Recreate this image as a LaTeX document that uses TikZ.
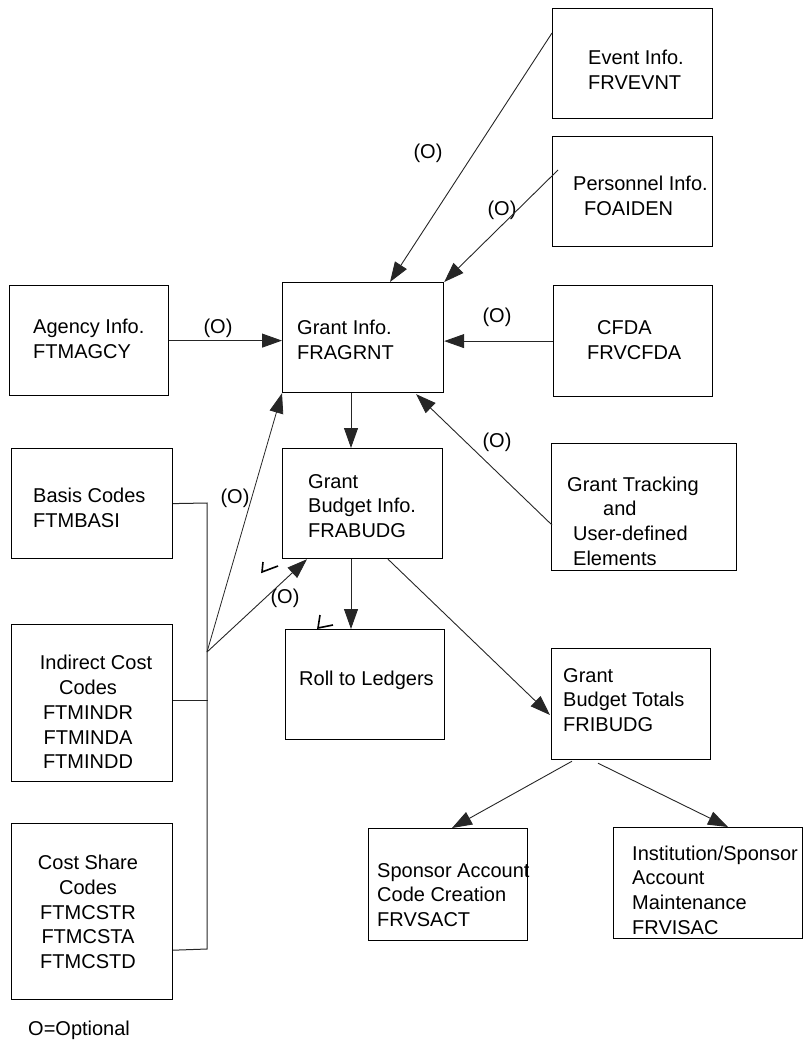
\documentclass[tikz,border=0pt]{standalone}
\usepackage{fontspec}
\setmainfont{Liberation Sans}
\usetikzlibrary{calc,arrows.meta}
\begin{document}
\begin{tikzpicture}[x=1pt,y=-1pt,
  box/.style={draw=black,line width=1.2pt,inner sep=0pt,anchor=north west},
  txt/.style={inner sep=0pt,anchor=west,align=left,font=\fontsize{20}{24.75}\selectfont},
  ctxt/.style={inner sep=0pt,anchor=center,align=center,font=\fontsize{20}{24.75}\selectfont},
  lbl/.style={inner sep=0pt,font=\fontsize{20}{24}\selectfont},
  arr/.style={draw=black!85,line width=0.9pt,-{Triangle[length=20pt,width=14pt]}},
  con/.style={draw=black!85,line width=1pt},
  tick/.style={draw=black,line width=1.6pt}]
\useasboundingbox (0,0) rectangle (804,1049);
% boxes
\node[box,minimum width=160pt,minimum height=110pt] (event) at (552,8) {};
\node[box,minimum width=160pt,minimum height=110pt] (personnel) at (552,136) {};
\node[box,minimum width=159pt,minimum height=110pt] (agency) at (9,285) {};
\node[box,minimum width=161pt,minimum height=110pt] (grant) at (282,282) {};
\node[box,minimum width=159pt,minimum height=111pt] (cfda) at (553,285) {};
\node[box,minimum width=185pt,minimum height=127pt] (tracking) at (551,443) {};
\node[box,minimum width=160pt,minimum height=110pt] (budget) at (282,448) {};
\node[box,minimum width=159pt,minimum height=110pt] (roll) at (285,629) {};
\node[box,minimum width=159pt,minimum height=111pt] (totals) at (551,648) {};
\node[box,minimum width=159pt,minimum height=112pt] (sponsor) at (368,828) {};
\node[box,minimum width=189pt,minimum height=111pt] (inst) at (613,827) {};
\node[box,minimum width=161pt,minimum height=110pt] (basis) at (11,448) {};
\node[box,minimum width=161pt,minimum height=157pt] (indirect) at (11,624) {};
\node[box,minimum width=161pt,minimum height=176pt] (costshare) at (11,823) {};
% texts
\node[txt] (t-event) at (588,70) {Event Info.\\FRVEVNT};
\node[txt] (t-personnel) at (573,196) {Personnel Info.\\\hspace*{11pt}FOAIDEN};
\node[txt] (t-agency) at (33,339) {Agency Info.\\FTMAGCY};
\node[txt] (t-grant) at (297,340) {Grant Info.\\FRAGRNT};
\node[txt] (t-cfda) at (587,340) {\hspace*{10pt}CFDA\\FRVCFDA};
\node[txt] (t-tracking) at (567,521) {Grant Tracking\\\hspace*{36pt}and\\\hspace*{6pt}User-defined\\\hspace*{6pt}Elements};
\node[txt] (t-budget) at (308,506) {Grant\\Budget Info.\\FRABUDG};
\node[txt] (t-roll) at (299,680) {Roll to Ledgers};
\node[txt] (t-totals) at (563,700) {Grant\\Budget Totals\\FRIBUDG};
\node[txt] (t-sponsor) at (377,895) {Sponsor Account\\Code Creation\\FRVSACT};
\node[txt] (t-inst) at (632,890) {Institution/Sponsor\\Account\\Maintenance\\FRVISAC};
\node[txt] (t-basis) at (33,508) {Basis Codes\\FTMBASI};
\node[ctxt] (t-indirect) at (88,712) {\hspace*{16pt}Indirect Cost\\Codes\\FTMINDR\\FTMINDA\\FTMINDD};
\node[ctxt] (t-costshare) at (88,912) {Cost Share\\Codes\\FTMCSTR\\FTMCSTA\\FTMCSTD};
\node[txt] (legend) at (28,1030) {O=Optional};
% labels
\node[lbl] (o1) at (218,328) {(O)};
\node[lbl] (o2) at (428,153) {(O)};
\node[lbl] (o3) at (502,210) {(O)};
\node[lbl] (o4) at (497,317) {(O)};
\node[lbl] (o5) at (497,442) {(O)};
\node[lbl] (o6) at (235,498) {(O)};
\node[lbl] (o7) at (285,598) {(O)};
% arrows into Grant Info
\draw[arr] ($(event.north west)+(0,25)$) -- ($(grant.north west)+(108,0)$);
\draw[arr] ($(personnel.north west)+(6,34)$) -- (grant.north east);
\draw[arr] (agency.east) -- (agency.east -| grant.west);
\draw[arr] (cfda.west) -- (cfda.west -| grant.east);
\draw[arr] ($(tracking.north west)+(1,82)$) -- ($(grant.south east)+(-28,1)$);
% main flow
\draw[arr] ($(grant.south west)+(69,0)$) -- ($(budget.north west)+(69,0)$);
\draw[arr] ($(budget.south west)+(69,0)$) -- ($(roll.north west)+(66,0)$);
\draw[arr] ($(budget.south west)+(106,0)$) -- ($(totals.north west)+(-1,67)$);
\draw[arr] ($(totals.south west)+(21,1)$) -- ($(sponsor.north west)+(84,0)$);
\draw[arr] ($(totals.south west)+(47,3)$) -- ($(inst.north west)+(115,0)$);
% bus of codes
\coordinate (bt) at (207,503);
\coordinate (jn) at (207,652);
\coordinate (bb) at (207,949);
\draw[con] (basis.east) -- (bt) -- (bb) -- ($(costshare.south east)+(0,-50)$);
\draw[con] ($(indirect.east)+(0,-3)$) -- ($(indirect.east)+(35,-3)$);
\draw[arr,line width=0.8pt] (jn) -- (grant.south west);
\draw[arr] (jn) -- ($(budget.south west)+(25,0)$);
% stray marks
\draw[tick] (263,562) -- (262,572) -- (278,566);
\draw[tick] (320,615) -- (318,628) -- (333,625);
\end{tikzpicture}
\end{document}
